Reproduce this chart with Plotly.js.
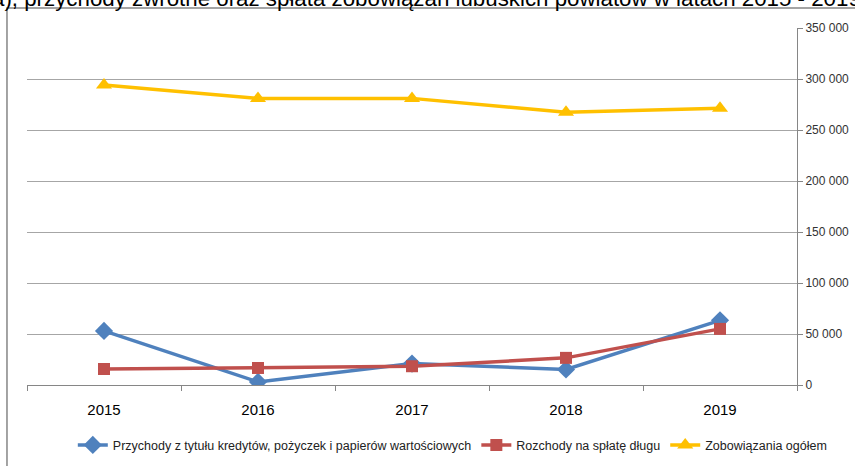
<!DOCTYPE html>
<html>
<head>
<meta charset="utf-8">
<script src="https://cdn.plot.ly/plotly-3.0.1.min.js"></script>
<style>html,body{margin:0;padding:0;background:#fff;overflow:hidden}#chart{width:855px;height:466px}</style>
</head>
<body>
<div id="chart"></div>
<script>
var years = ['2015', '2016', '2017', '2018', '2019'];
var przychody = [53000, 3000, 21000, 15200, 63400];
var rozchody = [15700, 16700, 18400, 26600, 55000];
var zobowiazania = [294100, 281000, 281000, 267400, 271300];
var seriesNames = ['Przychody z tytułu kredytów, pożyczek i papierów wartościowych', 'Rozchody na spłatę długu', 'Zobowiązania ogółem'];
var titleText = 'a), przychody zwrotne oraz spłata zobowiązań lubuskich powiatów w latach 2015 - 2019';

var traces = [
  {x: years, y: przychody, name: seriesNames[0], type: 'scatter', mode: 'lines+markers',
   line: {color: '#4F81BD', width: 3.5}, marker: {symbol: 'diamond', size: 14, color: '#4F81BD'}},
  {x: years, y: rozchody, name: seriesNames[1], type: 'scatter', mode: 'lines+markers',
   line: {color: '#C0504D', width: 3.5}, marker: {symbol: 'square', size: 12, color: '#C0504D'}},
  {x: years, y: zobowiazania, name: seriesNames[2], type: 'scatter', mode: 'lines+markers',
   line: {color: '#FFC000', width: 3.5}, marker: {symbol: 'triangle-up', size: 14, color: '#FFC000'}}
];

var layout = {
  width: 855, height: 466,
  margin: {l: 27, r: 58, t: 28, b: 80.5, pad: 0, autoexpand: false},
  paper_bgcolor: '#fff', plot_bgcolor: '#fff',
  separators: ', ',
  showlegend: true,
  font: {family: 'Arial, "Liberation Sans", sans-serif', color: '#000'},
  xaxis: {
    type: 'category', range: [-0.5, 4.5], tickson: 'boundaries',
    showgrid: false, zeroline: false, showline: true, linecolor: '#868686', linewidth: 1,
    ticks: 'outside', ticklen: 5, tickcolor: '#868686', ticklabelstandoff: 11,
    tickfont: {size: 15, color: '#000'}, fixedrange: true
  },
  yaxis: {
    side: 'right', range: [0, 350000], dtick: 50000, tickformat: ',d',
    showgrid: true, gridcolor: '#a6a6a6', gridwidth: 1, zeroline: false,
    showline: true, linecolor: '#868686', linewidth: 1,
    ticks: 'outside', ticklen: 5, tickcolor: '#868686',
    tickfont: {size: 12, color: '#333'}, fixedrange: true
  },
  legend: {
    orientation: 'h', x: 0.553, xanchor: 'center', y: -0.169, yanchor: 'middle',
    font: {size: 12.5, color: '#222'}, itemwidth: 30, tracegroupgap: 0
  },
  shapes: [
    {type: 'rect', xref: 'paper', yref: 'paper', x0: -0.026, x1: 1.2, y0: 1.056, y1: -0.4,
     line: {color: '#868686', width: 1.5}, fillcolor: 'rgba(0,0,0,0)', layer: 'below'}
  ],
  annotations: [
    {text: titleText, xref: 'paper', yref: 'paper', x: -0.048, xanchor: 'left',
     y: 1.042, yanchor: 'bottom', showarrow: false, font: {size: 22.3, color: '#000'}}
  ]
};

Plotly.newPlot('chart', traces, layout, {displayModeBar: false, staticPlot: true});
</script>
</body>
</html>
